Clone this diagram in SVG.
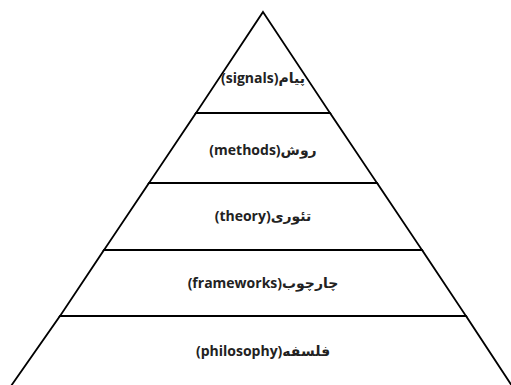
<svg xmlns="http://www.w3.org/2000/svg" width="511" height="385" viewBox="0 0 511 385">
<style>
.layer{fill:#fff;stroke:#000;stroke-width:1.8;stroke-linejoin:miter}
.lbl{font-family:'Open Sans','DejaVu Sans',sans-serif;font-weight:bold;font-size:14px;fill:#222;text-anchor:middle;direction:ltr}
</style>
<rect width="511" height="385" fill="#fff"/>
<g id="signals"><polygon class="layer" points="263,12 330,113 196,113"/><text class="lbl" x="263" y="83">(signals)پیام</text></g>
<g id="methods"><polygon class="layer" points="196,113 330,113 377,183 149,183"/><text class="lbl" x="263" y="155">(methods)روش</text></g>
<g id="theory"><polygon class="layer" points="149,183 377,183 422,250 104,250"/><text class="lbl" x="263" y="221">(theory)تئوری</text></g>
<g id="frameworks"><polygon class="layer" points="104,250 422,250 466,316 60,316"/><text class="lbl" x="263" y="288">(frameworks)چارچوب</text></g>
<g id="philosophy"><polygon class="layer" points="60,316 466,316 512,386 11,386"/><text class="lbl" x="263" y="356">(philosophy)فلسفه</text></g>
<g id="connectors"></g>
</svg>
